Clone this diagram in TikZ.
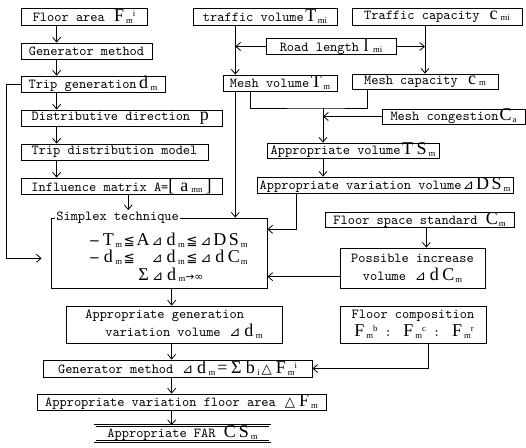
\documentclass[tikz,border=0pt]{standalone}
\usepackage{fontspec}
\newfontfamily\varf{Liberation Serif}
\newfontfamily\symf{DejaVu Sans}
\usetikzlibrary{arrows.meta}
\newcommand{\V}[1]{\makebox[10.5pt]{\varf\fontsize{13.5}{12}\selectfont #1}}
\newcommand{\B}[1]{{\varf\fontsize{13.5}{12}\selectfont #1}}
\newcommand{\sbs}[1]{\raisebox{-0.3ex}{\varf\fontsize{6.5}{6}\selectfont #1}}
\newcommand{\sps}[1]{\raisebox{0.9ex}{\varf\fontsize{6.5}{6}\selectfont #1}}
\newcommand{\sy}[1]{\makebox[10.5pt]{\symf\fontsize{10}{9}\selectfont #1}}
\newcommand{\dlt}{\sy{⊿}}
\newcommand{\lesym}{\sy{≦}}

\begin{document}
\begin{tikzpicture}[x=0.75pt,y=-0.75pt,>={Straight Barb[length=3.5pt,width=6pt]},
  line width=0.6pt, font=\ttfamily\fontsize{10.3}{11}\selectfont,
  box/.style={draw, rectangle, inner sep=0pt, minimum height=12pt},
  twoline/.style={font=\ttfamily\fontsize{10.3}{13.5}\selectfont}]
  \useasboundingbox (0,0) rectangle (526,448);
  % left column
  \node[box, minimum width=94.5pt, minimum height=12.75pt] (floor) at (84,16.5) {Floor area \V{F}\sbs{m}\sps{i}};
  \node[box, minimum width=98.25pt] (genm) at (86.5,51) {Generator method};
  \node[box, minimum width=108pt] (tripgen) at (93,84) {Trip generation\V{d}\sbs{m}};
  \node[box, minimum width=150.75pt] (distdir) at (121.5,118) {Distributive direction \V{p}};
  \node[box, minimum width=140.25pt] (tripdist) at (114.5,152) {Trip distribution model};
  \node[box, minimum width=150.75pt] (infl) at (121.5,186) {Influence matrix A=\B{[\,}\V{a}\sbs{mn}\B{\,]}};
  % traffic side
  \node[box, minimum width=108pt, minimum height=12.75pt] (trafvol) at (265,16.5) {traffic volume\V{T}\sbs{mi}};
  \node[box, minimum width=127.5pt, minimum height=12.75pt] (trafcap) at (437,16.5) {Traffic capacity \V{c}\sbs{mi}};
  \node[box, minimum width=97.5pt, minimum height=10pt] (road) at (331,46.5) {Road length\V{l}\sbs{mi}};
  \node[box, minimum width=85.5pt] (meshvol) at (280,83) {Mesh volume\V{T}\sbs{m}};
  \node[box, minimum width=109.5pt, minimum height=11.25pt] (meshcap) at (425,81.5) {Mesh capacity \V{c}\sbs{m}};
  \node[box, minimum width=107.25pt, minimum height=10pt] (meshcong) at (453.5,116.5) {Mesh congestion\V{C}\sbs{a}};
  \node[box, minimum width=129pt, minimum height=11.25pt] (apvol) at (353,150.5) {Appropriate volume\V{T}\V{S}\sbs{m}};
  \node[box, minimum width=192pt] (apvar) at (385,185) {Appropriate variation volume\dlt\V{D}\V{S}\sbs{m}};
  % simplex
  \node[draw, rectangle, minimum width=162pt, minimum height=52.5pt, inner sep=0pt] (simplex) at (159,253) {};
  \node[fill=white, inner sep=1pt, anchor=west] (simplexlbl) at ([xshift=3pt]simplex.north west) {Simplex technique\hspace{10pt}};
  \node[anchor=west, align=left, inner sep=0pt, font=\ttfamily\fontsize{10.3}{13}\selectfont] (simplextxt) at (87,257.5)
    {\sy{−}\V{T}\sbs{m}\lesym\V{A}\dlt\V{d}\sbs{m}\lesym\dlt\V{D}\V{S}\sbs{m}\\
     \sy{−}\V{d}\sbs{m}\lesym\hspace{10.5pt}\dlt\V{d}\sbs{m}\lesym\dlt\V{d}\V{C}\sbs{m}\\
     \hspace*{37pt}\V{Σ}\dlt\V{d}\sbs{m}{\symf\fontsize{8}{8}\selectfont →∞}};
  \node[box, minimum width=141.75pt, minimum height=10.5pt] (fss) at (419.5,220) {Floor space standard \V{C}\sbs{m}};
  \node[box, twoline, minimum width=108.75pt, minimum height=30pt, align=center] (posinc) at (412.5,268) {Possible increase\\volume \dlt\V{d}\V{C}\sbs{m}};
  % lower column
  \node[box, twoline, minimum width=162pt, minimum height=27.75pt, align=left] (apgen) at (174,324.5) {Appropriate generation\\\hspace*{15pt}variation volume \dlt\V{d}\sbs{m}};
  \node[box, twoline, minimum width=109.5pt, minimum height=27.75pt, align=center] (floorcomp) at (413,324.5) {Floor composition\\\V{F}\sbs{m}\sps{b} : \V{F}\sbs{m}\sps{c} : \V{F}\sbs{m}\sps{r}};
  \node[box, minimum width=201.75pt, minimum height=12.75pt] (genmeth) at (177.5,368.5) {Generator method \dlt\V{d}\sbs{m}\V{=}\V{Σ}\V{b}\sbs{i}\sy{△}\V{F}\sbs{m}\sps{i}};
  \node[box, minimum width=216.75pt] (apfloor) at (181.5,402) {Appropriate variation floor area \sy{△}\V{F}\sbs{m}};
  \node[box, double, double distance=1pt, minimum width=131.25pt, minimum height=12pt] (far) at (182.5,433.5) {Appropriate FAR \V{C}\V{S}\sbs{m}};

  % connectors, left column
  \draw[->] ([xshift=27pt]floor.south west) -- ([xshift=27pt]genm.north west);
  \draw[->] ([xshift=27pt]genm.south west) -- ([xshift=27pt]tripgen.north west);
  \draw[->] ([xshift=27pt]tripgen.south west) -- ([xshift=27pt]distdir.north west);
  \draw[->] ([xshift=27pt]distdir.south west) -- ([xshift=27pt]tripdist.north west);
  \draw[->] ([xshift=27pt]tripdist.south west) -- ([xshift=27pt]infl.north west);
  \draw[->] ([xshift=5pt]infl.south) -- ([xshift=5pt]infl.south |- simplexlbl.north);
  \draw[->] (tripgen.west) -- ++(-10.5pt,0) |- ([xshift=-6.75pt,yshift=-4pt]simplex.west);
  % traffic side
  \draw[->] ([xshift=32pt]trafvol.south west) -- ([xshift=32pt]trafvol.south west |- meshvol.north);
  \draw[->] (road.west) -- ([xshift=32pt]trafvol.south west |- road.west);
  \draw[->] (road.east) -- (road.east -| meshcap.north);
  \draw[->] (trafcap.south -| meshcap.north) -- (meshcap.north);
  \draw[->] ([xshift=32pt]trafvol.south west |- meshvol.south) -- ([xshift=32pt]trafvol.south west |- simplex.north);
  \coordinate (sum) at (323,108);
  \draw ([xshift=20.8pt]meshvol.south west) |- (sum) -| ([xshift=12pt]meshcap.south west);
  \draw[->] (sum) -- (sum |- apvol.north);
  \draw[->] (meshcong.west) -- (meshcong.west -| sum);
  \draw[->] (sum |- apvol.south) -- (sum |- apvar.north);
  \draw[->] ([xshift=-66.5pt]apvar.south) |- ([yshift=17.8pt]simplex.east);
  \draw[->] ([xshift=10.35pt]posinc.north |- fss.south) -- ([xshift=10.35pt]posinc.north);
  \draw[->] ([yshift=-6.5pt]posinc.west) -- ([yshift=-6.5pt]posinc.west -| simplex.east);
  % lower column
  \coordinate (mid) at ([xshift=9.5pt]simplex.south);
  \draw[->] (mid) -- (mid |- apgen.north);
  \draw[->] (mid |- apgen.south) -- (mid |- genmeth.north);
  \draw[->] (mid |- genmeth.south) -- (mid |- apfloor.north);
  \draw[->] (mid |- apfloor.south) -- (mid |- far.north);
  \draw[->] ([xshift=11.8pt]floorcomp.south) |- (genmeth.east);
\end{tikzpicture}
\end{document}
